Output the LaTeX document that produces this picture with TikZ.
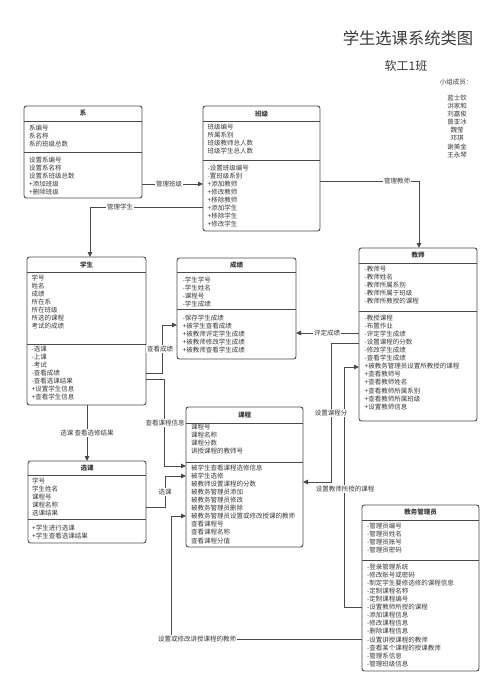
\documentclass[tikz,border=0pt]{standalone}
\usepackage{fontspec}
\setmainfont{Noto Sans CJK SC}
\usetikzlibrary{arrows.meta}
\definecolor{boxc}{HTML}{4A4A4A}
\definecolor{txtc}{HTML}{3A3A3A}
\definecolor{linec}{HTML}{4A4A4A}
\tikzset{
 cbox/.style={draw=boxc, line width=0.9pt, rounded corners=2.5pt, inner sep=0, outer sep=0, fill=white},
 sepline/.style={draw=boxc, line width=0.9pt},
 ctitle/.style={font=\fontsize{6.5}{7}\selectfont\bfseries, text=txtc, inner sep=0},
 ctext/.style={anchor=west, inner sep=0, font=\fontsize{6.5}{7}\selectfont, text=txtc, text height=5.4pt, text depth=1.1pt},
 conn/.style={draw=linec, line width=1pt, -{Triangle[length=5pt,width=4.5pt]}},
 clabel/.style={fill=white, inner sep=0.8pt, font=\fontsize{6.5}{7}\selectfont, text=txtc},
 htext/.style={text=txtc, inner sep=0},
}
\newcommand\classbox[8]{%
  \node[cbox, minimum width={#4-#2}, minimum height={#5-#3}] (#1) at ({(#2+#4)/2},{(#3+#5)/2}) {};
  \draw[sepline] (#1.west |- 0,#6) -- (#1.east |- 0,#6);
  \draw[sepline] (#1.west |- 0,#7) -- (#1.east |- 0,#7);
  \node[ctitle] (#1-t) at ({(#2+#4)/2},{(#3+#6)/2}) {#8};
}
\newcommand\classlines[4]{%
  \foreach \t [count=\i from 0] in {#4} {\node[ctext] (#1\i) at (#2,{#3+\i*8.1}) {\t};}
}
\begin{document}
\begin{tikzpicture}[x=1pt,y=-1pt]
\useasboundingbox[fill=white] (0,0) rectangle (500,687);

% header
\node[htext, font=\fontsize{16.3}{18}\selectfont] (title) at (408,38) {学生选课系统类图};
\node[htext, font=\fontsize{12}{14}\selectfont] (cls) at (406,66) {软工1班};
\node[htext, font=\fontsize{6.5}{7}\selectfont] (grp) at (456,82) {小组成员：};
\foreach \n [count=\i from 0] in {蓝士钦,洪家和,刘嘉俊,曾亚冰,魏莹,邓琪,谢美金,王永琴}
  {\node[htext, font=\fontsize{6.5}{7}\selectfont] (mem\i) at (457,{98+\i*8.1}) {\n};}

% classes
\classbox{xi}{24}{106}{142}{198}{121}{152}{系}
\classlines{xia}{29}{128}{系编号,系名称,系的班级总数}
\classlines{xim}{29}{160}{设置系编号,设置系名称,设置系班级总数,+添加班级,+删除班级}

\classbox{bj}{203}{106}{320}{231}{121.5}{160.5}{班级}
\classlines{bja}{207.5}{127}{班级编号,所属系别,班级教师总人数,班级学生总人数}
\classlines{bjm}{207.5}{168}{-设置班级编号,-置班级系别,+添加教师,+修改教师,+移除教师,+添加学生,+移除学生,+修改学生}

\classbox{xs}{27}{257}{146}{405}{272}{344}{学生}
\classlines{xsa}{31.5}{278}{学号,姓名,成绩,所在系,所在班级,所选的课程,考试的成绩}
\classlines{xsm}{31.5}{349}{-选课,-上课,-考试,-查看成绩,-查看选课结果,+设置学生信息,+查看学生信息}

\classbox{cj}{177}{258}{296}{359}{272}{309}{成绩}
\classlines{cja}{182.5}{280}{-学生学号,-学生姓名,-课程号,-学生成绩}
\classlines{cjm}{182.5}{318}{-保存学生成绩,+被学生查看成绩,+被教师评定学生成绩,+被教师修改学生成绩,+被教师查看学生成绩}

\classbox{js}{359}{248}{477}{421}{263}{311}{教师}
\classlines{jsa}{364.5}{269}{-教师号,-教师姓名,-教师所属系别,-教师所属于班级,-教师所教授的课程}
\classlines{jsm}{364.5}{318}{-教授课程,-布置作业,-评定学生成绩,-设置课程的分数,-修改学生成绩,-查看学生成绩,+被教务管理员设置所教授的课程,+查看教师号,+查看教师姓名,+查看教师所属系别,+查看教师所属班级,+设置教师信息}

\classbox{kc}{186}{407}{303}{547}{423}{462}{课程}
\classlines{kca}{191}{427}{课程号,课程名称,课程分数,讲授课程的教师号}
\classlines{kcm}{191}{468}{被学生查看课程选修信息,被学生选修,被教师设置课程的分数,被教务管理员添加,被教务管理员修改,被教务管理员删除,被教务管理员设置或修改授课的教师,查看课程号,查看课程名称,查看课程分值}

\classbox{xk}{28}{461}{146}{543}{475}{519}{选课}
\classlines{xka}{32}{481}{学号,学生姓名,课程号,课程名称,选课结果}
\classlines{xkm}{32}{528}{+学生进行选课,+学生查看选课结果}

\classbox{gl}{362}{505}{479}{671}{520}{560}{教务管理员}
\classlines{gla}{367}{526}{-管理员编号,-管理员姓名,-管理员账号,-管理员密码}
\classlines{glm}{367}{567}{-登录管理系统,-修改账号或密码,-制定学生要修选修的课程信息,-定制课程名称,-定制课程编号,-设置教师所授的课程,-添加课程信息,-修改课程信息,-删除课程信息,-设置讲授课程的教师,-查看某个课程的授课教师,-管理系信息,-管理班级信息}

% connectors
\draw[conn] (xi.east |- 0,184) -- (bj.west |- 0,184);
\draw[conn] (bj.west |- 0,207) -- (90,207) -- (xs.north -| 90,0);
\draw[conn] (bj.east |- 0,181) -- (419,181) -- (js.north -| 419,0);
\draw[conn] (js.west |- 0,333) -- (cj.east |- 0,333);
\draw[conn] (xs.east |- 0,373) -- (162,373) -- (162,325) -- (cj.west |- 0,325);
\draw[conn] (xs.east |- 0,379) -- (164.5,379) -- (164.5,466) -- (kc.west |- 0,466);
\draw[conn] (xs.south -| 87,0) -- (xk.north -| 87,0);
\draw[conn] (xk.east |- 0,507) -- (165,507) -- (165,476) -- (kc.west |- 0,476);
\draw[conn] (gl.west |- 0,639) -- (171,639) -- (171,516) -- (kc.west |- 0,516);
\draw[conn] (gl.west |- 0,607) -- (344,607) -- (344,367) -- (js.west |- 0,367);
\draw[conn] (js.west |- 0,343) -- (331,343) -- (331,482) -- (kc.east |- 0,482);

% connector labels
\node[clabel] (l1) at (169,184) {管理班级};
\node[clabel] (l2) at (120,207) {管理学生};
\node[clabel] (l3) at (397,181) {管理教师};
\node[clabel] (l4) at (327,333) {评定成绩};
\node[clabel] (l5) at (160,349) {查看成绩};
\node[clabel] (l6) at (165,423) {查看课程信息};
\node[clabel] (l7) at (87,433) {选课 查看选修结果};
\node[clabel] (l8) at (165,492) {选课};
\node[clabel] (l9) at (197,639) {设置或修改讲授课程的教师};
\node[clabel] (l10) at (345,489) {设置教师所授的课程};
\node[clabel] (l11) at (331,413) {设置课程分};
\end{tikzpicture}
\end{document}
